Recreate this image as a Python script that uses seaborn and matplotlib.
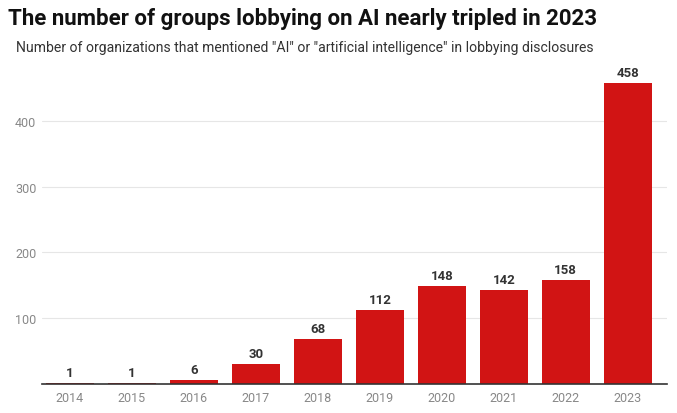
import matplotlib
matplotlib.use("Agg")
import matplotlib.pyplot as plt
import seaborn as sns
import pandas as pd

years = ["2014", "2015", "2016", "2017", "2018", "2019", "2020", "2021", "2022", "2023"]
counts = [1, 1, 6, 30, 68, 112, 148, 142, 158, 458]
yticks = [100, 200, 300, 400]

sns.set_theme(style="white")
plt.rcParams["font.family"] = ["Roboto", "DejaVu Sans"]

df = pd.DataFrame({"year": years, "count": counts})

fig = plt.figure(figsize=(6.77, 4.14), dpi=100)
ax = fig.add_axes([0.062, 0.0708, 0.923, 0.762])

sns.barplot(data=df, x="year", y="count", color="#d11414", width=0.77,
            saturation=1, ax=ax, zorder=3, edgecolor="none")

for i, v in enumerate(counts):
    ax.text(i, v + 6, str(v), ha="center", va="bottom", fontsize=9.5,
            fontweight="bold", color="#333333")

ax.set_xlim(-0.45, 9.63)
ax.set_ylim(0, 480)
ax.set_yticks(yticks)
ax.set_yticklabels([str(t) for t in yticks])
ax.yaxis.grid(True, color="#e6e6e6", linewidth=0.8, zorder=0)
ax.set_xlabel("")
ax.set_ylabel("")
for s in ["top", "right", "left"]:
    ax.spines[s].set_visible(False)
ax.spines["bottom"].set_color("#333333")
ax.spines["bottom"].set_linewidth(1.2)
ax.spines["bottom"].set_zorder(4)
ax.tick_params(axis="both", length=0, labelsize=9, colors="#888888")
ax.tick_params(axis="y", pad=4)
ax.tick_params(axis="x", pad=5)

fig.text(0.012, 0.94, "The number of groups lobbying on AI nearly tripled in 2023",
         fontsize=16.0, fontweight="bold", color="#111111", ha="left", va="baseline")
fig.text(0.024, 0.875, "Number of organizations that mentioned \"AI\" or \"artificial intelligence\" in lobbying disclosures",
         fontsize=10.05, color="#333333", ha="left", va="baseline")

fig.savefig("out.png", dpi=100)
